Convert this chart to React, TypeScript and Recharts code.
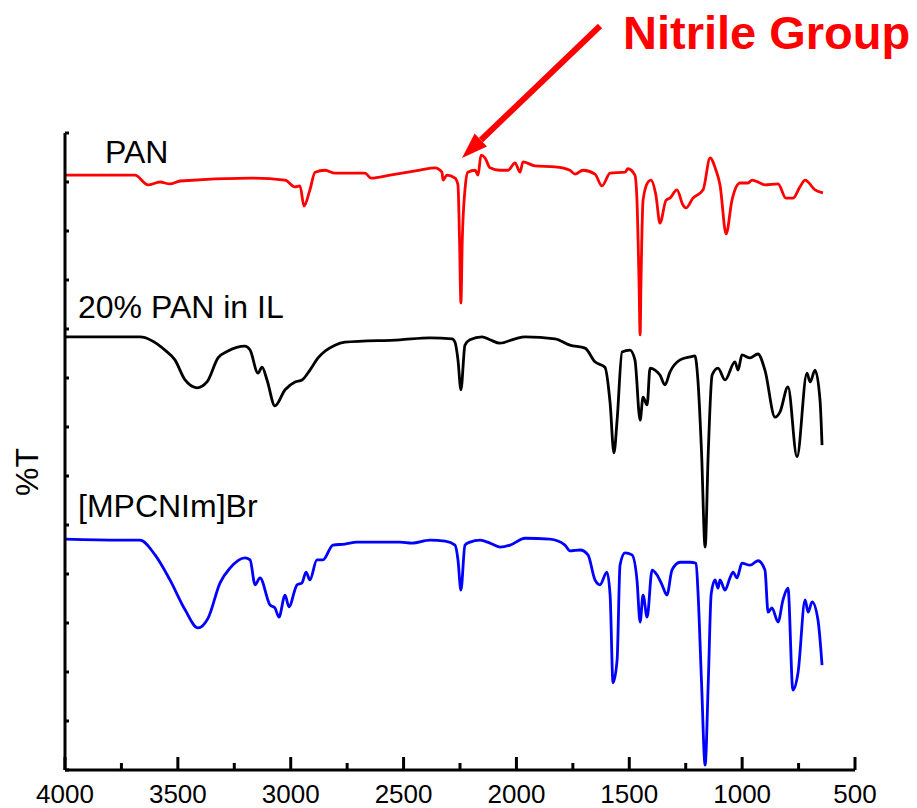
import React from 'react';
import { LineChart, Line, XAxis, YAxis } from 'recharts';

// Wavenumber (cm-1) and offset %T values
const panWn = [4000, 3690, 3632, 3579, 3535, 3490, 3180, 3025, 2981, 2959, 2941, 2915, 2892, 2848, 2804, 2671, 2644, 2560, 2427, 2361, 2330, 2325, 2308, 2272, 2259, 2252, 2246, 2240, 2228, 2215, 2183, 2170, 2157, 2139, 2117, 2073, 2037, 2006, 1984, 1971, 1918, 1829, 1763, 1740, 1705, 1652, 1621, 1585, 1519, 1506, 1475, 1466, 1457, 1452, 1448, 1439, 1417, 1404, 1382, 1364, 1337, 1320, 1289, 1262, 1249, 1218, 1173, 1142, 1116, 1098, 1071, 1045, 1009, 974, 956, 921, 899, 841, 806, 775, 744, 721, 677, 642];
const panT = [121.4, 121.4, 119.4, 120.0, 119.6, 120.2, 120.8, 120.4, 119.0, 119.2, 115.1, 118.4, 122.0, 122.4, 121.8, 121.8, 120.8, 121.4, 122.4, 122.9, 122.0, 120.4, 121.4, 120.8, 119.4, 108, 95.3, 108, 118.4, 122.0, 122.4, 121.4, 125.5, 124.9, 122.9, 122.4, 122.4, 123.9, 122.0, 124.1, 123.3, 123.1, 122.4, 121.6, 122.4, 121.6, 119.2, 121.8, 122.0, 122.7, 121.4, 116.3, 100, 88.8, 100, 116.3, 120.0, 120.4, 117.3, 111.6, 116.3, 116.7, 118.4, 115.3, 114.7, 116.7, 118.4, 124.9, 122.4, 119.4, 109.4, 116.3, 119.8, 119.8, 120.4, 119.8, 119.4, 119.6, 116.7, 116.7, 119.0, 120.4, 118.4, 117.8];

const ilWn = [4000, 3668, 3557, 3513, 3468, 3415, 3371, 3322, 3278, 3203, 3180, 3145, 3127, 3105, 3070, 3025, 2981, 2950, 2915, 2879, 2804, 2760, 2516, 2383, 2285, 2272, 2259, 2246, 2228, 2206, 2152, 2117, 2073, 2006, 1962, 1829, 1763, 1696, 1652, 1608, 1585, 1568, 1554, 1532, 1497, 1475, 1452, 1439, 1421, 1408, 1386, 1364, 1342, 1320, 1275, 1231, 1209, 1196, 1180, 1164, 1150, 1133, 1107, 1076, 1032, 1018, 1001, 965, 930, 899, 854, 832, 797, 757, 713, 699, 677, 655, 646];
const ilT = [88.4, 88.4, 85.7, 83.7, 79.6, 78.0, 79.2, 84.1, 85.5, 86.5, 85.7, 81.0, 82.2, 79.6, 74.3, 77.6, 79.2, 79.6, 81.6, 84.1, 86.7, 87.3, 87.8, 88.2, 88.0, 87.3, 83.7, 77.6, 86.7, 87.8, 88.4, 87.8, 87.1, 88.0, 88.4, 88.0, 86.7, 86.1, 83.3, 82.2, 74.9, 64.7, 71.4, 85.3, 85.7, 83.7, 71.4, 76.1, 74.5, 82.0, 81.6, 80.6, 78.6, 81.2, 83.7, 84.3, 84.5, 79.6, 65, 45.5, 65, 80.6, 82.0, 79.6, 83.3, 81.6, 84.7, 84.1, 84.9, 81.6, 72.0, 73.1, 78.2, 63.9, 81.0, 79.2, 81.6, 75.5, 66.3];

const ionicWn = [4000, 3756, 3668, 3601, 3535, 3468, 3411, 3366, 3313, 3269, 3203, 3180, 3158, 3136, 3092, 3070, 3052, 3025, 3008, 2972, 2950, 2932, 2915, 2884, 2857, 2813, 2760, 2706, 2516, 2463, 2383, 2316, 2272, 2259, 2246, 2228, 2206, 2161, 2117, 2073, 2028, 1962, 1851, 1785, 1763, 1718, 1683, 1652, 1630, 1599, 1585, 1572, 1554, 1541, 1519, 1488, 1466, 1452, 1439, 1421, 1399, 1377, 1355, 1333, 1311, 1275, 1231, 1204, 1196, 1180, 1164, 1150, 1137, 1120, 1107, 1098, 1076, 1054, 1040, 1023, 1001, 965, 930, 899, 885, 868, 841, 819, 797, 775, 752, 721, 708, 690, 664, 646];
const ionicT = [47.1, 46.9, 46.9, 43.9, 38.8, 32.7, 29.0, 31.0, 38.2, 41.2, 43.3, 42.9, 37.8, 39.2, 33.7, 33.1, 31.2, 35.7, 33.3, 37.8, 38.2, 40.4, 38.8, 42.9, 42.9, 45.9, 46.1, 46.5, 46.5, 46.3, 46.9, 46.7, 45.9, 42.9, 36.7, 45.9, 46.5, 46.9, 46.3, 45.5, 45.9, 47.3, 47.1, 45.9, 44.7, 44.9, 43.9, 38.8, 37.8, 40.4, 35.7, 17.8, 22.4, 41.8, 44.3, 43.9, 38.8, 30.2, 35.7, 31.2, 40.8, 39.8, 37.8, 35.7, 40.8, 42.4, 42.4, 42.2, 36.7, 18, 1.0, 18, 36, 38.8, 37.1, 38.8, 36.7, 39.2, 40.4, 39.2, 42.2, 41.8, 42.7, 40.8, 32.2, 33.1, 30.2, 34.7, 37.1, 16.3, 20.0, 34.7, 32.2, 34.3, 30.6, 21.4];

const xTicks = [4000, 3750, 3500, 3250, 3000, 2750, 2500, 2250, 2000, 1750, 1500, 1250, 1000, 750, 500];
const xLabelTicks = [4000, 3500, 3000, 2500, 2000, 1500, 1000, 500];
const yTicks = [0, 10, 20, 30, 40, 50, 60, 70, 80, 90, 100, 110, 120, 130];

const seriesNames = ['PAN', '20% PAN in IL', '[MPCNIm]Br'];
const annotation = 'Nitrile Group';
const yTitle = '%T';

const toRows = (wn: number[], t: number[]) => wn.map((w, i) => ({ wn: w, t: t[i] }));
const panData = toRows(panWn, panT);
const ilData = toRows(ilWn, ilT);
const ionicData = toRows(ionicWn, ionicT);

const FONT = '"Liberation Sans", Arial, sans-serif';

const XTick = (props: any) => {
  const { x, y, payload } = props;
  const major = xLabelTicks.includes(payload.value);
  return (
    <g>
      <line x1={x} x2={x} y1={y} y2={y - (major ? 13 : 7)} stroke="#000" strokeWidth={3} />
      {major && (
        <text x={x} y={y + 33} textAnchor="middle" fontSize={26} fontFamily={FONT} fill="#000">
          {payload.value}
        </text>
      )}
    </g>
  );
};

const YTick = (props: any) => {
  const { x, y } = props;
  return <line x1={x} x2={x + 4} y1={y} y2={y} stroke="#000" strokeWidth={3} />;
};

export default function App() {
  return (
    <div style={{ position: 'absolute', left: 0, top: 0, width: 917, height: 808, background: '#fff' }}>
      <LineChart
        width={917}
        height={808}
        margin={{ top: 133, right: 62, bottom: 0, left: 0 }}
        style={{ fontFamily: FONT }}
      >
        <XAxis
          dataKey="wn"
          type="number"
          domain={[500, 4000]}
          reversed
          ticks={xTicks}
          interval={0}
          height={38}
          tickSize={0}
          tickMargin={0}
          tickLine={false}
          axisLine={{ stroke: '#000', strokeWidth: 3 }}
          tick={<XTick />}
          allowDataOverflow
        />
        <YAxis
          type="number"
          domain={[0, 130]}
          ticks={yTicks}
          interval={0}
          width={65}
          tickSize={0}
          tickMargin={0}
          tickLine={false}
          axisLine={{ stroke: '#000', strokeWidth: 3 }}
          tick={<YTick />}
          allowDataOverflow
        />
        <Line data={panData} dataKey="t" name={seriesNames[0]} type="monotone" stroke="#ff0000" strokeWidth={2.8} dot={false} isAnimationActive={false} />
        <Line data={ilData} dataKey="t" name={seriesNames[1]} type="monotone" stroke="#000000" strokeWidth={2.8} dot={false} isAnimationActive={false} />
        <Line data={ionicData} dataKey="t" name={seriesNames[2]} type="monotone" stroke="#0000ff" strokeWidth={2.8} dot={false} isAnimationActive={false} />
      </LineChart>
      <svg
        width={917}
        height={808}
        style={{ position: 'absolute', left: 0, top: 0, pointerEvents: 'none' }}
      >
        <text x={105} y={163} fontSize={32} fontFamily={FONT} fill="#000">{seriesNames[0]}</text>
        <text x={78} y={318} fontSize={32} fontFamily={FONT} fill="#000">{seriesNames[1]}</text>
        <text x={78} y={517} fontSize={32} fontFamily={FONT} fill="#000">{seriesNames[2]}</text>
        <text x={38} y={472} fontSize={32} fontFamily={FONT} fill="#000" textAnchor="middle" transform="rotate(-90, 38, 472)">{yTitle}</text>
        <text x={623} y={49} fontSize={47} fontWeight="bold" fontFamily={FONT} fill="#ff0000">{annotation}</text>
        <line x1={600} y1={26} x2={481} y2={140} stroke="#ff0000" strokeWidth={6} />
        <polygon points="462,158 487,146.5 474.6,133.5" fill="#ff0000" />
      </svg>
    </div>
  );
}
